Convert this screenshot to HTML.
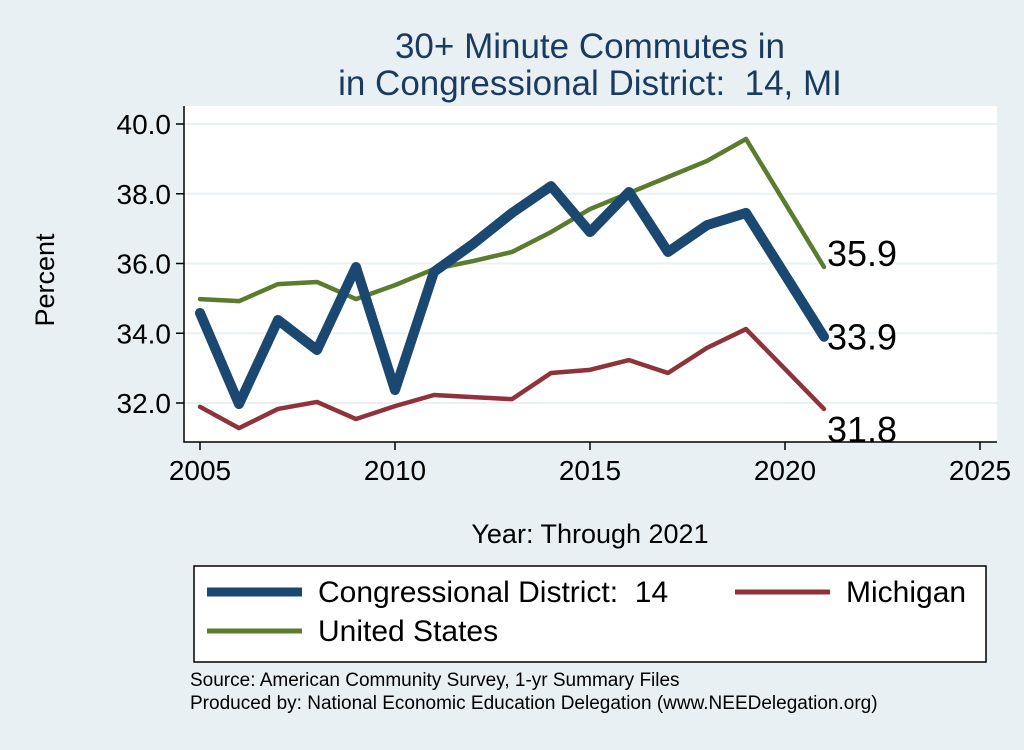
<!DOCTYPE html>
<html><head><meta charset="utf-8">
<style>
body{margin:0;background:#e9f0f3;font-family:"Liberation Sans",sans-serif}
</style></head>
<body>
<svg id="c" width="1024" height="745" xmlns="http://www.w3.org/2000/svg" font-family="Liberation Sans, sans-serif">
<rect x="0" y="0" width="1024" height="745" fill="#e9f0f3"/>
<rect x="184" y="106" width="813" height="336" fill="#fff"/>
<text x="590" y="58" font-size="35" fill="#1a3a5e" text-anchor="middle">30+ Minute Commutes in</text>
<text x="590" y="95" font-size="35" fill="#1a3a5e" text-anchor="middle">in Congressional District:&#160; 14, MI</text>
<g id="grid"></g><g id="axes"></g><g id="series"></g>
<text x="54" y="280" font-size="27" text-anchor="middle" transform="rotate(-90 54 280)">Percent</text>
<text x="590" y="543" font-size="27" text-anchor="middle">Year: Through 2021</text>
<g>
<rect x="194" y="566" width="792" height="96" fill="#fff" stroke="#000" stroke-width="1.5"/>
<line x1="207" y1="592" x2="302" y2="592" stroke="#1a4870" stroke-width="9"/>
<text x="318" y="602" font-size="30">Congressional District:&#160; 14</text>
<line x1="735" y1="592" x2="830" y2="592" stroke="#8f333b" stroke-width="5"/>
<text x="846" y="602" font-size="30">Michigan</text>
<line x1="207" y1="631" x2="302" y2="631" stroke="#5b7b2e" stroke-width="5"/>
<text x="318" y="641" font-size="30">United States</text>
</g>
<text x="190" y="686" font-size="19">Source: American Community Survey, 1-yr Summary Files</text>
<text x="190" y="709" font-size="19">Produced by: National Economic Education Delegation (www.NEEDelegation.org)</text>
</svg>
<script>
const years=[2005,2006,2007,2008,2009,2010,2011,2012,2013,2014,2015,2016,2017,2018,2019,2021];
const district=[34.58,31.97,34.38,33.52,35.9,32.37,35.76,36.56,37.45,38.22,36.9,38.05,36.33,37.1,37.45,33.9];
const michigan=[31.89,31.28,31.83,32.03,31.54,31.91,32.23,32.17,32.11,32.86,32.95,33.23,32.86,33.58,34.12,31.83];
const us=[34.98,34.92,35.41,35.47,34.98,35.38,35.84,36.07,36.33,36.9,37.56,38.02,38.48,38.94,39.57,35.9];
const yTicks=[32,34,36,38,40];
const yTickLabels=["32.0","34.0","36.0","38.0","40.0"];
const xTicks=[2005,2010,2015,2020,2025];
const endLabels=["33.9","31.8","35.9"];
const NS="http://www.w3.org/2000/svg";
const X=v=>200+(v-2005)*39;
const Y=v=>124+(40-v)*34.875;
function mk(t,a,p){const e=document.createElementNS(NS,t);for(const k in a)e.setAttribute(k,a[k]);document.getElementById(p).appendChild(e);return e;}
yTicks.forEach((t,i)=>{
 const g=mk('line',{x1:184,x2:997,y1:Y(t),y2:Y(t),stroke:'#eaf0f3','stroke-width':2},'grid');
 
 
 const k=mk('line',{x1:176,x2:184,y1:Y(t),y2:Y(t),stroke:'#000','stroke-width':1.5},'axes');
 
 
 const l=mk('text',{x:171,y:Y(t)+10,'font-size':28,'text-anchor':'end'},'axes');
 l.textContent=yTickLabels[i];
 
 
});
const ax=mk('path',{d:'M184 106 V442 H997',fill:'none',stroke:'#000','stroke-width':1.5},'axes');


xTicks.forEach(t=>{
 const k=mk('line',{x1:X(t),x2:X(t),y1:442,y2:450,stroke:'#000','stroke-width':1.5},'axes');
 
 
 const l=mk('text',{x:X(t),y:480,'font-size':28,'text-anchor':'middle'},'axes');
 l.textContent=t;
 
 
});
function line(vals,color,w,name){
 const d=vals.map((v,i)=>(i?'L':'M')+X(years[i])+' '+Y(v)).join(' ');
 const p=mk('path',{d:d,fill:'none',stroke:color,'stroke-width':w,'stroke-linejoin':'round','stroke-linecap':'round'},'series');
 
 
}
line(michigan,'#8f333b',4.5,'michigan-line');
line(us,'#5b7b2e',4.5,'us-line');
line(district,'#1a4870',10,'district-line');
const n=years.length-1;
[[district,8,'district-end-label'],[michigan,28,'michigan-end-label'],[us,-6,'us-end-label']].forEach((s,i)=>{
 const t=mk('text',{x:X(years[n])+3,y:Y(s[0][n])+s[1]+5,'font-size':36},'series');
 t.textContent=endLabels[i];
 
 
});
</script>
</body></html>
